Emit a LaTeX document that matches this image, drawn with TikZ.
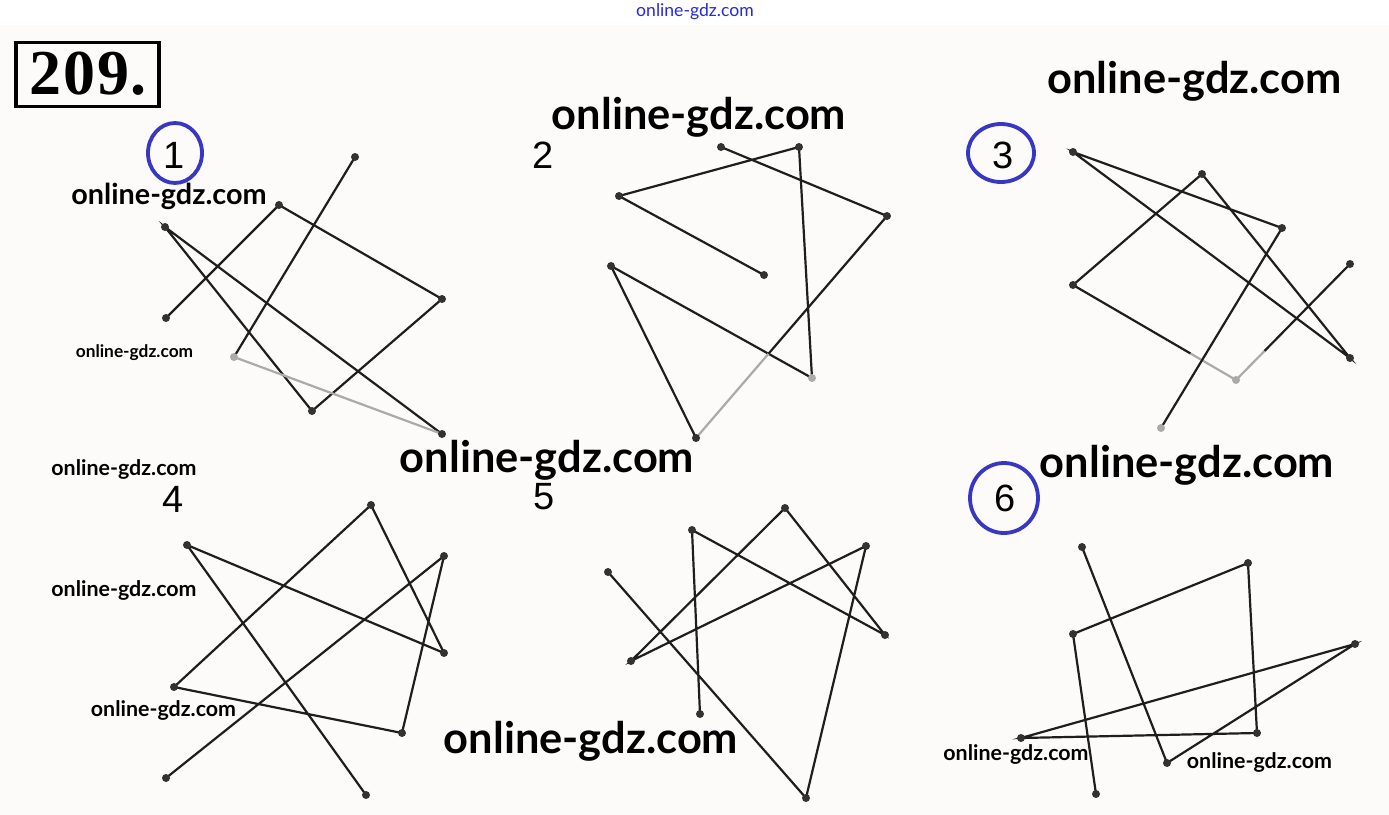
\documentclass[tikz,border=0pt]{standalone}
\usepackage{fontspec}
\setmainfont{Lato}
\newfontfamily\numfont{Liberation Sans}
\newfontfamily\titlefont{Liberation Serif}
\usetikzlibrary{shapes.geometric,calc}
\definecolor{bgc}{RGB}{253,250,250}
\definecolor{linec}{RGB}{30,30,30}
\definecolor{dotc}{RGB}{50,50,50}
\definecolor{ghost}{RGB}{170,170,170}
\definecolor{ringc}{RGB}{55,55,195}
\definecolor{wmblue}{RGB}{40,40,220}
\tikzset{
  dot/.style={circle,fill=dotc,inner sep=0pt,minimum size=4pt},
  gdot/.style={circle,fill=ghost,inner sep=0pt,minimum size=4pt},
  ln/.style={draw=linec,line width=1.1pt},
  gln/.style={draw=ghost,line width=1.1pt},
  wmbig/.style={font=\bfseries\fontsize{21.7}{24}\selectfont,anchor=base,inner sep=0pt},
  wmmid/.style={font=\bfseries\fontsize{14.4}{16}\selectfont,anchor=base,inner sep=0pt},
  wmsmall/.style={font=\bfseries\fontsize{10.7}{12}\selectfont,anchor=base,inner sep=0pt},
  wmtiny/.style={font=\bfseries\fontsize{8.65}{10}\selectfont,anchor=base,inner sep=0pt},
  numlab/.style={font=\numfont\fontsize{19}{20}\selectfont,inner sep=0pt},
  ring/.style={draw=ringc,line width=1.9pt,ellipse,inner sep=0pt}
}
\begin{document}
\begin{tikzpicture}[x=0.5pt,y=-0.5pt]
\useasboundingbox (0,0) rectangle (1389,815);
\fill[white] (0,0) rectangle (1389,815);
\fill[bgc] (0,25) rectangle (1389,815);

% title
\node[draw=black,line width=1.6pt,minimum width=71.5pt,minimum height=32pt,inner sep=0pt] (title) at (87.5,74.5) {};
\node[font=\titlefont\bfseries\fontsize{32}{34}\selectfont,inner sep=0pt] (titletext) at (88,74) {2\kern1pt0\kern1pt9\kern0.5pt.};

% ---------- figure 1 ----------
\node[numlab] (n1) at (174,155) {1};
\node[ring,minimum width=27pt,minimum height=30pt] (r1) at (175,153) {};
\coordinate (a1) at (166,318);
\coordinate (a2) at (279,205);
\coordinate (a3) at (442,299);
\coordinate (a4) at (312,411);
\coordinate (a5) at (165,227);
\coordinate (a6) at (442,434);
\coordinate (a7) at (234,357);
\coordinate (a8) at (355,157);
\draw[ln] (a1) -- (a2) -- (a3) -- (a4) -- (a5) -- (a6);
\draw[gln] (a6) -- (a7);
\draw[ln] (a7) -- (a8);
\foreach \p in {a1,a2,a3,a4,a5,a6,a8} \node[dot] (d\p) at (\p) {};
\node[gdot] (da7) at (a7) {};

% ---------- figure 2 ----------
\node[numlab] (n2) at (543,155) {2};
\coordinate (b1) at (764,275);
\coordinate (b2) at (619,196);
\coordinate (b3) at (799,147);
\coordinate (b4) at (812,378);
\coordinate (b5) at (611,266);
\coordinate (b6) at (696,438);
\coordinate (b7) at (887,216);
\coordinate (b8) at (721,147);
\coordinate (b67) at ($(b6)!0.38!(b7)$);
\draw[ln] (b1) -- (b2) -- (b3) -- (b4) -- (b5) -- (b6);
\draw[gln] (b6) -- (b67);
\draw[ln] (b67) -- (b7) -- (b8);
\foreach \p in {b1,b2,b3,b5,b6,b7,b8} \node[dot] (d\p) at (\p) {};
\node[gdot] (db4) at (b4) {};

% ---------- figure 3 ----------
\node[numlab] (n3) at (1003,155) {3};
\node[ring,minimum width=33pt,minimum height=29pt] (r3) at (1001,153) {};
\coordinate (c1) at (1350,264);
\coordinate (c2) at (1236,380);
\coordinate (c3) at (1073,285);
\coordinate (c4) at (1202,174);
\coordinate (c5) at (1350,358);
\coordinate (c6) at (1073,152);
\coordinate (c7) at (1282,228);
\coordinate (c8) at (1161,428);
\coordinate (c32) at ($(c3)!0.72!(c2)$);
\coordinate (c21) at ($(c2)!0.25!(c1)$);
\draw[ln] (c1) -- (c21);
\draw[gln] (c21) -- (c2) -- (c32);
\draw[ln] (c32) -- (c3) -- (c4) -- (c5) -- (c6) -- (c7) -- (c8);
\foreach \p in {c1,c3,c4,c5,c6,c7} \node[dot] (d\p) at (\p) {};
\node[gdot] (dc2) at (c2) {};
\node[gdot] (dc8) at (c8) {};

% ---------- figure 4 ----------
\node[numlab] (n4) at (173,499) {4};
\coordinate (e1) at (166,778);
\coordinate (e2) at (444,556);
\coordinate (e3) at (402,733);
\coordinate (e4) at (174,687);
\coordinate (e5) at (371,505);
\coordinate (e6) at (444,653);
\coordinate (e7) at (187,545);
\coordinate (e8) at (366,795);
\draw[ln] (e1) -- (e2) -- (e3) -- (e4) -- (e5) -- (e6) -- (e7) -- (e8);
\foreach \p in {e1,e2,e3,e4,e5,e6,e7,e8} \node[dot] (d\p) at (\p) {};

% ---------- figure 5 ----------
\node[numlab] (n5) at (544,497) {5};
\coordinate (f1) at (608,572);
\coordinate (f2) at (806,798);
\coordinate (f3) at (866,546);
\coordinate (f4) at (631,661);
\coordinate (f5) at (785,508);
\coordinate (f6) at (885,635);
\coordinate (f7) at (692,530);
\coordinate (f8) at (700,714);
\draw[ln] (f1) -- (f2) -- (f3) -- (f4) -- (f5) -- (f6) -- (f7) -- (f8);
\foreach \p in {f1,f2,f3,f4,f5,f6,f7,f8} \node[dot] (d\p) at (\p) {};

% ---------- figure 6 ----------
\node[numlab] (n6) at (1005,498) {6};
\node[ring,minimum width=34pt,minimum height=35pt] (r6) at (1004,498) {};
\coordinate (g1) at (1082,547);
\coordinate (g2) at (1167,763);
\coordinate (g3) at (1355,644);
\coordinate (g4) at (1021,738);
\coordinate (g5) at (1257,733);
\coordinate (g6) at (1248,563);
\coordinate (g7) at (1073,634);
\coordinate (g8) at (1096,794);
\draw[ln] (g1) -- (g2) -- (g3) -- (g4) -- (g5) -- (g6) -- (g7) -- (g8);
\foreach \p in {g1,g2,g3,g4,g5,g6,g7,g8} \node[dot] (d\p) at (\p) {};

% ---------- watermark texts ----------
\node[font=\fontsize{8.8}{10}\selectfont,inner sep=0pt,text=wmblue] (w0) at (695,12) {online-gdz.com};
\node[wmbig] (w1) at (699,129) {online-gdz.com};
\node[wmbig] (w2) at (1194.5,93) {online-gdz.com};
\node[wmmid] (w3) at (169,204) {online-gdz.com};
\node[wmtiny] (w4) at (134.5,357) {online-gdz.com};
\node[wmbig] (w5) at (547,472) {online-gdz.com};
\node[wmbig] (w6) at (1187,477) {online-gdz.com};
\node[wmbig] (w7) at (591,753) {online-gdz.com};
\node[wmsmall] (w8) at (124,475) {online-gdz.com};
\node[wmsmall] (w9) at (124,596) {online-gdz.com};
\node[wmsmall] (w10) at (163.5,716) {online-gdz.com};
\node[wmsmall] (w11) at (1016,760) {online-gdz.com};
\node[wmsmall] (w12) at (1259.5,768) {online-gdz.com};
\end{tikzpicture}
\end{document}
